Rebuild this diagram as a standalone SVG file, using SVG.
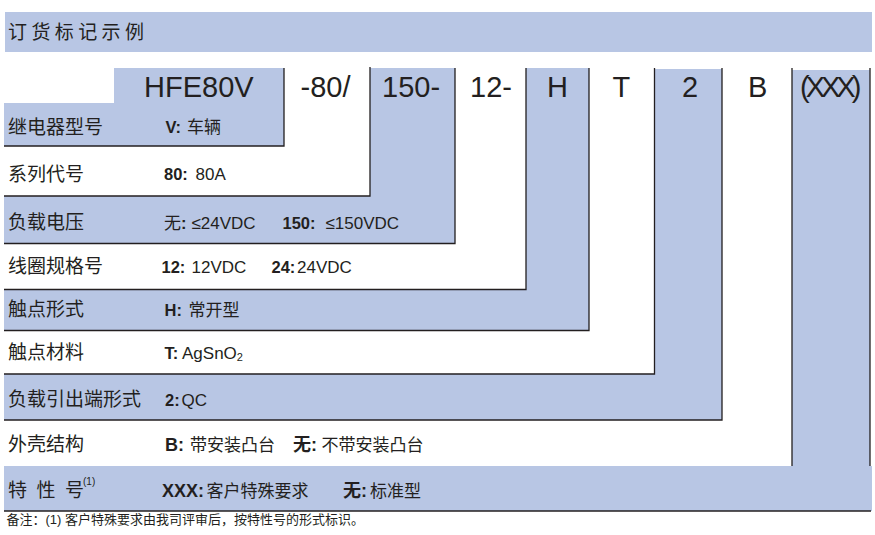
<svg xmlns="http://www.w3.org/2000/svg" width="875" height="535" viewBox="0 0 875 535">
<style>
.blue{fill:#B8C6E4}
.ln{stroke:#231F20;stroke-width:1.3;fill:none}
text{font-family:"Liberation Sans","Noto Sans CJK SC",sans-serif;fill:#231F20}
.lbl{font-size:19px}
.val{font-size:17px}
.cjk{font-size:17px}
.b{font-weight:bold;font-size:16.5px}
.big .b{font-size:18px}
.code{font-size:29px}
</style>
<rect width="875" height="535" fill="#fff"/>
<g id="title">
<rect class="blue" x="5" y="12" width="867" height="40"/>
<text class="lbl" x="8" y="39" letter-spacing="4.4">订货标记示例</text>
</g>
<g id="seg-model">
<polygon class="blue" points="114,68 284,68 284,146 4,146 4,103 114,103"/>
<text class="code" x="144" y="97">HFE80V</text>
<text class="lbl" x="8" y="134">继电器型号</text>
<text class="val" y="133"><tspan class="b" x="165.5" font-size="15">V:</tspan><tspan class="cjk" x="187" font-size="16">车辆</tspan></text>
</g>
<g id="seg-series">
<text class="code" x="300.5" y="97">-80/</text>
<text class="lbl" x="8" y="181">系列代号</text>
<text class="val" y="180"><tspan class="b" x="164">80:</tspan><tspan x="195.5">80A</tspan></text>
</g>
<g id="seg-load-voltage">
<polygon class="blue" points="370,68 455,68 455,243.5 4,243.5 4,196 370,196"/>
<text class="code" x="382" y="97">150-</text>
<text class="lbl" x="8" y="229">负载电压</text>
<text class="val" y="229"><tspan class="cjk" x="164" font-size="16">无</tspan><tspan class="b">:</tspan><tspan x="191.5">≤24VDC</tspan><tspan class="b" x="282.5">150:</tspan><tspan x="325.5">≤150VDC</tspan></text>
</g>
<g id="seg-coil">
<text class="code" x="470" y="97">12-</text>
<text class="lbl" x="8" y="273">线圈规格号</text>
<text class="val" y="273"><tspan class="b" x="161.5">12:</tspan><tspan x="191.5">12VDC</tspan><tspan class="b" x="271.5">24:</tspan><tspan x="297">24VDC</tspan></text>
</g>
<g id="seg-contact-form">
<polygon class="blue" points="526,68 589,68 589,330.5 4,330.5 4,289.5 526,289.5"/>
<text class="code" x="547" y="97">H</text>
<text class="lbl" x="8" y="316">触点形式</text>
<text class="val" y="316"><tspan class="b" x="164.5">H:</tspan><tspan class="cjk" x="188.5">常开型</tspan></text>
</g>
<g id="seg-contact-material">
<text class="code" x="612.5" y="97">T</text>
<text class="lbl" x="8" y="359">触点材料</text>
<text class="val" y="359"><tspan class="b" x="164.5">T:</tspan><tspan x="182">AgSnO</tspan><tspan font-size="11" dy="2">2</tspan></text>
</g>
<g id="seg-terminal">
<polygon class="blue" points="655,69 722,69 722,420 4,420 4,374 655,374"/>
<text class="code" x="682" y="97">2</text>
<text class="lbl" x="8" y="406">负载引出端形式</text>
<text class="val" y="406"><tspan class="b" x="165">2:</tspan><tspan x="181.5">QC</tspan></text>
</g>
<g id="seg-housing">
<text class="code" x="748" y="97">B</text>
<text class="lbl" x="8" y="451">外壳结构</text>
<text class="val big" y="451"><tspan class="b" x="165">B:</tspan><tspan class="cjk" x="190">带安装凸台</tspan><tspan class="b" x="293">无:</tspan><tspan class="cjk" x="321.5">不带安装凸台</tspan></text>
</g>
<g id="seg-special">
<polygon class="blue" points="792,70 870,70 870,466 872,466 872,511 4,511 4,466 792,466"/>
<text class="code" x="800" y="97" letter-spacing="-4">(XXX)</text>
<text class="lbl" y="497"><tspan x="8">特</tspan><tspan x="36.5">性</tspan><tspan x="65">号</tspan><tspan font-size="10" x="83" dy="-12">(1)</tspan></text>
<text class="val big" y="497"><tspan class="b" x="162">XXX:</tspan><tspan class="cjk" x="206.5">客户特殊要求</tspan><tspan class="b" x="343">无:</tspan><tspan class="cjk" x="370">标准型</tspan></text>
</g>
<g id="connectors">
<path class="ln" d="M284,68 V146 H4"/>
<path class="ln" d="M370,67 V196 H4"/>
<path class="ln" d="M455,68 V243.5 H4"/>
<path class="ln" d="M526,68 V289.5 H4"/>
<path class="ln" d="M589,68 V330.5 H4"/>
<path class="ln" d="M654.5,68 V374 H4"/>
<path class="ln" d="M722,68 V420 H4"/>
<path class="ln" d="M792,68 V466"/>
<path class="ln" d="M870,68 V466"/>
<path class="ln" d="M4,511 H871"/>
</g>
<g id="footnote">
<text x="6.5" y="524" font-size="13">备注：(1) 客户特殊要求由我司评审后，按特性号的形式标识。</text>
</g>
</svg>
